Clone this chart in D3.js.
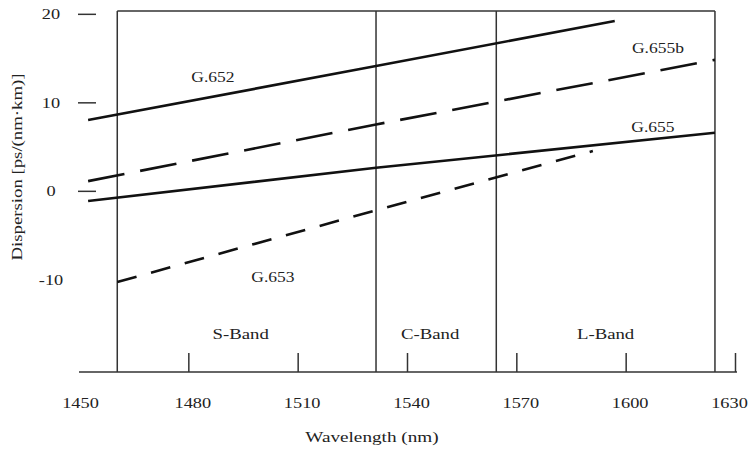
<html>
<head>
<meta charset="utf-8">
<style>
  body { margin: 0; background: #fff; }
</style>
</head>
<body>
<div id="chartContainer"></div>
<script src="https://cdnjs.cloudflare.com/ajax/libs/d3/7.8.5/d3.min.js"></script>
<script type="text/javascript">
  // Tick values
  var xTicks = [1450, 1480, 1510, 1540, 1570, 1600, 1630];
  var yTicks = [20, 10, 0, -10];

  // Band edges (nm) and names
  var bandEdges = [1460.5, 1531.5, 1564.5, 1624.5];
  var bandNames = ["S-Band", "C-Band", "L-Band"];

  // Fibre dispersion lines [wavelength nm, ps/(nm km)]
  var seriesNames = ["G.652", "G.655b", "G.655", "G.653"];
  var g652  = [[1452.5, 8.0], [1531.5, 14.1], [1597, 19.2]];
  var g655b = [[1452.5, 1.1], [1531.5, 7.5], [1624.5, 14.8]];
  var g655  = [[1452.5, -1.15], [1531.5, 2.6], [1624.5, 6.56]];
  var g653  = [[1460.5, -10.3], [1531.5, -2.2], [1591, 4.5]];

  var font = "'Liberation Serif', 'Times New Roman', serif";
  var ink = "#222";

  var svg = d3.select("#chartContainer").append("svg")
    .attr("width", 750)
    .attr("height", 450);

  var x = d3.scaleLinear().domain([1450, 1630]).range([79, 735]);
  var y = d3.scaleLinear().domain([-20.47, 20.32]).range([372, 11]);

  // the scanned figure is wider than normal type, so stretch the text a bit
  function stretch(sel, k) {
    sel.each(function () {
      var w = this.getComputedTextLength();
      d3.select(this)
        .attr("textLength", w * k)
        .attr("lengthAdjust", "spacingAndGlyphs");
    });
  }

  // Band frame: vertical lines at band edges and the top border
  svg.selectAll("line.band")
    .data(bandEdges)
    .enter()
    .append("line")
      .attr("class", "band")
      .attr("x1", function (d) { return x(d); })
      .attr("x2", function (d) { return x(d); })
      .attr("y1", y.range()[1])
      .attr("y2", y.range()[0])
      .style("stroke", "#333")
      .style("stroke-width", 1.5);

  svg.append("line")
    .attr("x1", x(bandEdges[0]))
    .attr("x2", x(bandEdges[bandEdges.length - 1]))
    .attr("y1", y.range()[1])
    .attr("y2", y.range()[1])
    .style("stroke", "#333")
    .style("stroke-width", 1.5);

  // x axis with ticks pointing up
  var xAxis = svg.append("g")
    .attr("transform", "translate(0," + y.range()[0] + ")")
    .call(d3.axisBottom(x)
      .tickValues(xTicks)
      .tickSizeInner(-19)
      .tickSizeOuter(0)
      .tickPadding(25)
      .tickFormat(d3.format("d")));

  xAxis.select(".domain")
    .attr("d", "M" + x.range()[0] + ",0H" + (x.range()[1] + 2))
    .style("stroke", "#333")
    .style("stroke-width", 1.5);
  xAxis.selectAll(".tick line")
    .style("stroke", "#333")
    .style("stroke-width", 1.5)
    .style("display", function (d) { return d === 1450 ? "none" : null; });
  // first and last labels sit a little differently in the scan
  xAxis.selectAll(".tick text")
    .attr("dx", function (d) { return d === 1450 ? 1 : (d === 1630 ? -6 : 4); })
    .attr("font-family", font)
    .attr("font-size", 15)
    .style("fill", ink)
    .call(stretch, 1.22);

  // y axis: short detached ticks, no domain line
  var yAxis = svg.append("g")
    .attr("transform", "translate(96,0)")
    .call(d3.axisLeft(y)
      .tickValues(yTicks)
      .tickSize(18)
      .tickFormat(function (d) { return d < 0 ? "-" + Math.abs(d) : d; }));

  yAxis.select(".domain").remove();
  yAxis.selectAll(".tick line")
    .style("stroke", "#333")
    .style("stroke-width", 1.5)
    .style("display", function (d) { return d < 0 ? "none" : null; });
  yAxis.selectAll(".tick text")
    .attr("x", -45)
    .attr("text-anchor", "middle")
    .attr("font-family", font)
    .attr("font-size", 15)
    .style("fill", ink)
    .call(stretch, 1.22);

  // Axis titles
  svg.append("text")
    .attr("x", 372)
    .attr("y", 442)
    .attr("text-anchor", "middle")
    .attr("font-family", font)
    .attr("font-size", 15)
    .style("fill", ink)
    .text("Wavelength (nm)")
    .call(stretch, 1.28);

  svg.append("text")
    .attr("transform", "translate(22,167) rotate(-90)")
    .attr("text-anchor", "middle")
    .attr("font-family", font)
    .attr("font-size", 15)
    .style("fill", ink)
    .text("Dispersion [ps/(nm\u00b7km)]")
    .call(stretch, 1.25);

  // Band names along the bottom of each band
  svg.selectAll("text.bandName")
    .data(bandNames)
    .enter()
    .append("text")
      .attr("class", "bandName")
      .attr("x", function (d, i) { return (x(bandEdges[i]) + x(bandEdges[i + 1])) / 2 - (i < 2 ? 6 : 0); })
      .attr("y", 339)
      .attr("text-anchor", "middle")
      .attr("font-family", font)
      .attr("font-size", 15)
      .style("fill", ink)
      .text(function (d) { return d; })
      .call(stretch, 1.25);

  // Dispersion lines
  var line = d3.line()
    .x(function (d) { return x(d[0]); })
    .y(function (d) { return y(d[1]); });

  var series = [
    { name: seriesNames[0], values: g652,  dash: null },
    { name: seriesNames[1], values: g655b, dash: "37,16" },
    { name: seriesNames[2], values: g655,  dash: null },
    { name: seriesNames[3], values: g653,  dash: "20,15" }
  ];

  svg.selectAll("path.fibre")
    .data(series)
    .enter()
    .append("path")
      .attr("class", "fibre")
      .attr("d", function (d) { return line(d.values); })
      .style("fill", "none")
      .style("stroke", "#111")
      .style("stroke-width", 2.6)
      .style("stroke-linecap", "butt")
      .style("stroke-dasharray", function (d) { return d.dash; });

  // Line labels, placed where the figure has them
  var labelPos = { "G.652": [213, 82], "G.655b": [658, 53], "G.655": [653, 132], "G.653": [273, 282] };

  svg.selectAll("text.fibreName")
    .data(series)
    .enter()
    .append("text")
      .attr("class", "fibreName")
      .attr("x", function (d) { return labelPos[d.name][0]; })
      .attr("y", function (d) { return labelPos[d.name][1]; })
      .attr("text-anchor", "middle")
      .attr("font-family", font)
      .attr("font-size", 14)
      .style("fill", ink)
      .text(function (d) { return d.name; })
      .call(stretch, 1.25);
</script>
</body>
</html>
